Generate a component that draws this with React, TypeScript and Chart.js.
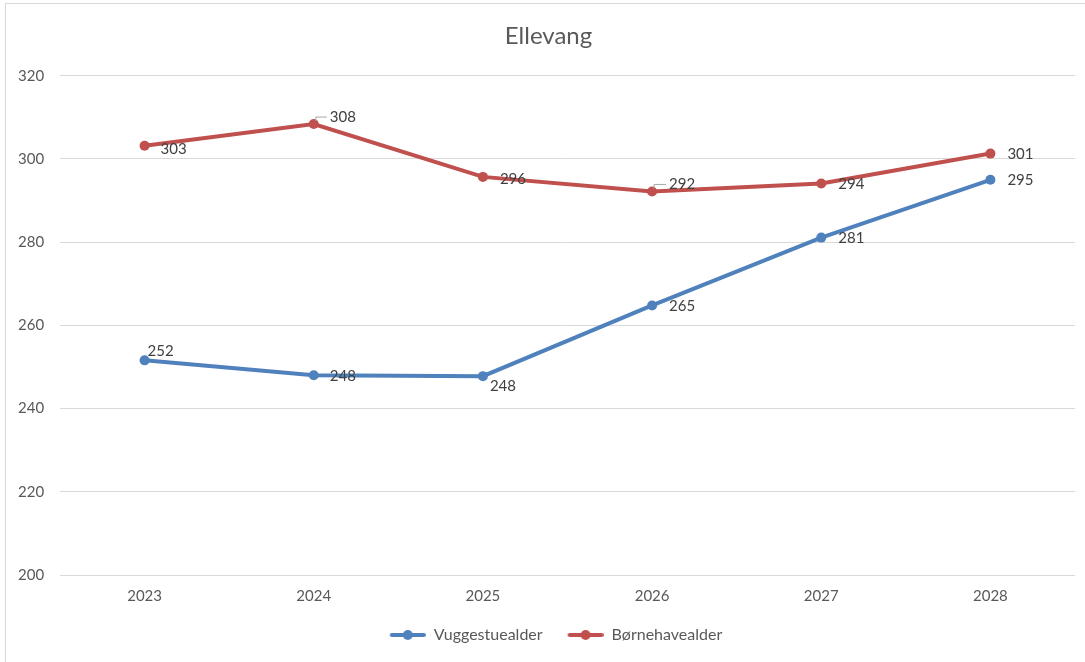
import React, { useEffect, useRef } from "react";
import { Chart, registerables } from "chart.js";

Chart.register(...registerables);

const categories = ["2023", "2024", "2025", "2026", "2027", "2028"];
const vuggestuealder = [251.6, 248.0, 247.8, 264.8, 281.1, 295.0];
const boernehavealder = [303.2, 308.4, 295.7, 292.2, 294.1, 301.3];
const yTicks = [200, 220, 240, 260, 280, 300, 320];

// label placement (dx, dy from point), leader flags
const blueLabelDx = [3, 16, 7, 17, 17, 17];
const blueLabelDy = [-9, 1, 10, 1, 1, 0];
const redLabelDx = [16, 16, 17, 17, 17, 17];
const redLabelDy = [3, -7, 2, -7, 1, 1];
const redLeader = [false, true, false, true, false, false];

const BLUE = "#4f81bd";
const RED = "#c0504d";
const FONT = "Lato, 'Open Sans', sans-serif";
const ICON_MARGIN = 15;

function legendIcon(color: string): HTMLCanvasElement {
  const c = document.createElement("canvas");
  c.width = 36 + ICON_MARGIN;
  c.height = 12;
  const ctx = c.getContext("2d")!;
  const o = ICON_MARGIN;
  ctx.strokeStyle = color;
  ctx.lineWidth = 4;
  ctx.lineCap = "round";
  ctx.beginPath();
  ctx.moveTo(o + 2, 6);
  ctx.lineTo(o + 34, 6);
  ctx.stroke();
  ctx.fillStyle = color;
  ctx.beginPath();
  ctx.arc(o + 18, 6, 5, 0, Math.PI * 2);
  ctx.fill();
  return c;
}

const dataLabelPlugin = {
  id: "dataLabels",
  afterDatasetsDraw(chart: any) {
    const ctx = chart.ctx;
    ctx.save();
    ctx.font = `15px ${FONT}`;
    ctx.fillStyle = "#404040";
    ctx.textAlign = "left";
    ctx.textBaseline = "middle";
    chart.data.datasets.forEach((ds: any, di: number) => {
      const meta = chart.getDatasetMeta(di);
      const dxs = di === 0 ? blueLabelDx : redLabelDx;
      const dys = di === 0 ? blueLabelDy : redLabelDy;
      meta.data.forEach((pt: any, i: number) => {
        const x = pt.x + dxs[i];
        const y = pt.y + dys[i];
        if (di === 1 && redLeader[i]) {
          ctx.save();
          ctx.strokeStyle = "#a6a6a6";
          ctx.lineWidth = 1;
          ctx.beginPath();
          ctx.moveTo(pt.x + 2, pt.y - 3);
          ctx.lineTo(pt.x + 2, y);
          ctx.lineTo(x - 3, y);
          ctx.stroke();
          ctx.restore();
        }
        ctx.fillText(String(Math.round(ds.data[i])), x, y);
      });
    });
    ctx.restore();
  },
};

const borderPlugin = {
  id: "frame",
  beforeDraw(chart: any) {
    const ctx = chart.ctx;
    ctx.save();
    ctx.fillStyle = "#ffffff";
    ctx.fillRect(0, 0, chart.width, chart.height);
    ctx.strokeStyle = "#d9d9d9";
    ctx.lineWidth = 1;
    ctx.strokeRect(5.5, 3.5, chart.width + 20, chart.height + 20);
    ctx.restore();
  },
};

export default function App() {
  const ref = useRef<HTMLCanvasElement>(null);
  useEffect(() => {
    document.body.style.margin = "0";
    const chart = new Chart(ref.current!, {
      type: "line",
      data: {
        labels: categories,
        datasets: [
          {
            label: "Vuggestuealder",
            data: vuggestuealder,
            borderColor: BLUE,
            backgroundColor: BLUE,
            borderWidth: 4,
            pointRadius: 5,
            pointHoverRadius: 5,
            pointBackgroundColor: BLUE,
            pointBorderWidth: 0,
            pointStyle: "circle",
            tension: 0,
          },
          {
            label: "Børnehavealder",
            data: boernehavealder,
            borderColor: RED,
            backgroundColor: RED,
            borderWidth: 4,
            pointRadius: 5,
            pointHoverRadius: 5,
            pointBackgroundColor: RED,
            pointBorderWidth: 0,
            pointStyle: "circle",
            tension: 0,
          },
        ],
      },
      options: {
        animation: false,
        responsive: false,
        maintainAspectRatio: false,
        layout: { padding: { left: 22, right: 10, top: 0, bottom: 9 } },
        plugins: {
          title: {
            display: true,
            text: "Ellevang",
            color: "#595959",
            font: { family: FONT, size: 24, weight: "normal" },
            padding: { top: 22, bottom: 25 },
          },
          legend: {
            position: "bottom",
            labels: {
              usePointStyle: true,
              pointStyleWidth: 36 + ICON_MARGIN,
              color: "#595959",
              font: { family: FONT, size: 16 },
              padding: 10,
              generateLabels: (chart: any) =>
                chart.data.datasets.map((ds: any, i: number) => ({
                  text: ds.label,
                  pointStyle: legendIcon(ds.borderColor),
                  fillStyle: ds.borderColor,
                  strokeStyle: ds.borderColor,
                  lineWidth: 0,
                  fontColor: "#595959",
                  hidden: false,
                  datasetIndex: i,
                })),
            },
          },
          tooltip: { enabled: false },
        },
        scales: {
          x: {
            offset: true,
            grid: { display: false, drawTicks: false },
            border: { display: false },
            ticks: {
              color: "#595959",
              font: { family: FONT, size: 15 },
              padding: 12,
            },
          },
          y: {
            min: 200,
            max: 320,
            afterFit: (scale: any) => {
              scale.width = 38;
            },
            afterBuildTicks: (scale: any) => {
              scale.ticks = yTicks.map((v) => ({ value: v }));
            },
            grid: { color: "#d9d9d9", lineWidth: 1, drawTicks: false },
            border: { display: false },
            ticks: {
              color: "#595959",
              font: { family: FONT, size: 15 },
              mirror: true,
              crossAlign: "near",
              padding: -42,
            },
          },
        },
      },
      plugins: [borderPlugin, dataLabelPlugin],
    });
    return () => chart.destroy();
  }, []);
  return (
    <div style={{ position: "absolute", left: 0, top: 0, width: 1085, height: 662 }}>
      <canvas ref={ref} width={1085} height={662} style={{ display: "block" }} />
    </div>
  );
}
